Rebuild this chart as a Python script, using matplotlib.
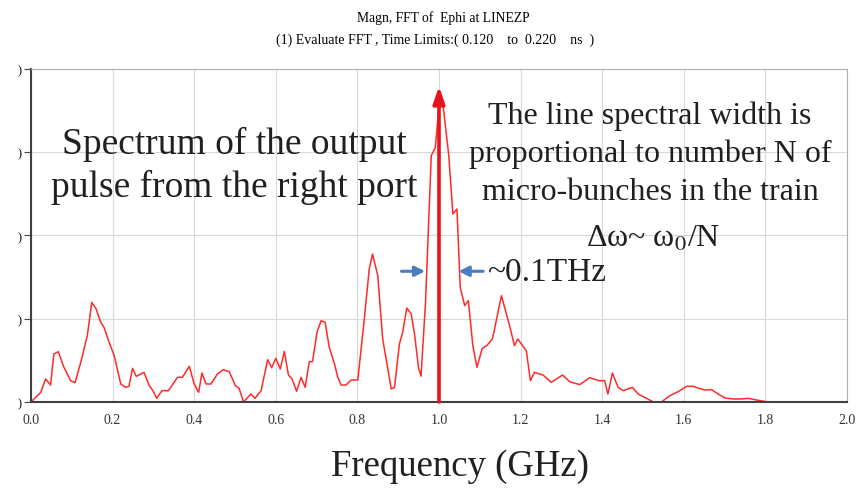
import matplotlib
matplotlib.use("Agg")
import matplotlib.pyplot as plt

plt.rcParams['font.family'] = ['Liberation Serif', 'DejaVu Serif']
plt.rcParams['mathtext.fontset'] = 'stix'

# spectrum (frequency in GHz, magnitude in arbitrary units)
freq = [0.000, 0.024, 0.036, 0.048, 0.056, 0.067, 0.079, 0.097, 0.108, 0.122,
        0.138, 0.149, 0.159, 0.171, 0.179, 0.191, 0.204, 0.220, 0.232, 0.240,
        0.249, 0.258, 0.277, 0.290, 0.299, 0.308, 0.321, 0.337, 0.359, 0.371,
        0.388, 0.400, 0.411, 0.419, 0.429, 0.441, 0.457, 0.471, 0.486, 0.501,
        0.510, 0.521, 0.539, 0.549, 0.564, 0.580, 0.590, 0.600, 0.611, 0.621,
        0.631, 0.640, 0.651, 0.662, 0.672, 0.682, 0.690, 0.701, 0.711, 0.721,
        0.731, 0.744, 0.752, 0.760, 0.772, 0.785, 0.801, 0.817, 0.829, 0.837,
        0.850, 0.862, 0.883, 0.891, 0.903, 0.911, 0.921, 0.932, 0.940, 0.950,
        0.956, 0.967, 0.981, 0.991, 1.003, 1.011, 1.024, 1.034, 1.044, 1.052,
        1.063, 1.072, 1.083, 1.093, 1.106, 1.117, 1.131, 1.153, 1.173, 1.185,
        1.193, 1.214, 1.224, 1.234, 1.255, 1.275, 1.303, 1.320, 1.345, 1.369,
        1.392, 1.406, 1.414, 1.425, 1.439, 1.451, 1.474, 1.488, 1.512, 1.525,
        1.545, 1.566, 1.586, 1.607, 1.623, 1.637, 1.652, 1.668, 1.684, 1.701,
        1.721, 1.740, 1.758, 1.778, 1.807, 1.900, 2.000]
mag = [0.00, 1.16, 2.76, 2.04, 5.76, 6.04, 4.36, 2.56, 2.32, 4.76,
       7.96, 11.97, 11.25, 9.57, 8.97, 7.24, 5.56, 2.16, 1.76, 1.88,
       4.04, 3.08, 3.56, 1.96, 1.36, 0.44, 1.36, 1.36, 2.96, 2.96,
       4.28, 2.16, 1.16, 3.48, 2.16, 2.16, 3.36, 3.88, 3.64, 1.96,
       1.64, 0.00, 0.96, 0.44, 1.36, 5.08, 4.12, 5.24, 3.96, 6.08,
       3.24, 2.76, 1.28, 2.96, 1.76, 4.84, 4.84, 8.37, 9.76, 9.57,
       6.57, 4.56, 2.96, 2.04, 2.04, 2.64, 2.64, 9.97, 15.97, 17.78,
       15.17, 7.57, 1.56, 1.76, 6.97, 8.37, 11.29, 10.57, 8.17, 4.04,
       3.10, 11.97, 29.58, 30.58, 37.20, 35.19, 29.58, 22.58, 23.18, 13.77,
       11.57, 12.17, 6.76, 4.16, 6.45, 6.76, 7.57, 12.77, 9.16, 6.76,
       7.57, 6.16, 2.56, 3.56, 3.24, 2.36, 3.24, 2.44, 2.08, 2.92,
       2.56, 2.56, 0.96, 3.48, 1.76, 1.36, 1.76, 0.96, 0.36, 0.00,
       0.00, 0.76, 1.24, 1.88, 1.88, 1.64, 1.44, 1.48, 0.96, 0.48,
       0.36, 0.36, 0.44, 0.24, 0.00, 0.00, 0.00]

xticks = [0.0, 0.2, 0.4, 0.6, 0.8, 1.0, 1.2, 1.4, 1.6, 1.8, 2.0]
yticks = [0, 10, 20, 30, 40]

fig = plt.figure(figsize=(8.58, 4.89), dpi=100)
ax = fig.add_axes([0.0361, 0.1759, 0.9511, 0.681])

ax.plot(freq, mag, color='#ff2a2a', lw=1.1)

ax.set_xlim(0, 2.0)
ax.set_ylim(0, 40)
ax.set_xticks(xticks)
ax.set_xticklabels([f'{t:.1f}' for t in xticks], fontsize=10, color='#333333')
ax.set_yticks(yticks)
ax.set_yticklabels([')'] * len(yticks), fontsize=9)
ax.tick_params(axis='x', length=0, pad=8)
ax.tick_params(axis='y', length=5, pad=2, color='#444444')
ax.grid(True, color='#d8d8d8', lw=0.8)
ax.set_axisbelow(True)
for side in ['left', 'bottom']:
    ax.spines[side].set_color('#404040')
    ax.spines[side].set_linewidth(1.5)
for side in ['top', 'right']:
    ax.spines[side].set_color('#b0b0b0')
    ax.spines[side].set_linewidth(0.8)

fig.text(0.517, 0.962, 'Magn, FFT of  Ephi at LINEZP', ha='center', va='center', fontsize=9.8)
fig.text(0.507, 0.918, '(1) Evaluate FFT , Time Limits:( 0.120    to  0.220    ns  )',
         ha='center', va='center', fontsize=10)

# central red arrow at the carrier frequency
ax.annotate('', xy=(1.0, 37.9), xytext=(1.0, 0),
            arrowprops=dict(arrowstyle='-|>,head_width=0.35,head_length=1.0',
                            color='#e8141c', lw=2.6, shrinkA=0, shrinkB=0))

# blue width markers
blue = '#4a7cc0'
ax.annotate('', xy=(0.966, 15.7), xytext=(0.908, 15.7),
            arrowprops=dict(arrowstyle='-|>,head_width=0.3,head_length=0.6',
                            color=blue, lw=2.2, shrinkA=0, shrinkB=0))
ax.annotate('', xy=(1.048, 15.7), xytext=(1.108, 15.7),
            arrowprops=dict(arrowstyle='-|>,head_width=0.3,head_length=0.6',
                            color=blue, lw=2.2, shrinkA=0, shrinkB=0))
ax.text(1.117, 15.7, '~0.1THz', fontsize=24, ha='left', va='center', color='#202020')

ax.text(0.498, 28.5, 'Spectrum of the output\npulse from the right port', fontsize=27,
        ha='center', va='center', linespacing=1.3, color='#202020')
ax.text(1.517, 29.9, 'The line spectral width is\nproportional to number N of\nmicro-bunches in the train',
        fontsize=23, ha='center', va='center', linespacing=1.4, color='#202020')
ax.text(1.525, 19.7, r'Δω~ ω$_0$/N', fontsize=23, ha='center', va='center', color='#202020')

fig.text(0.536, 0.045, 'Frequency (GHz)', fontsize=26.5, ha='center', va='center', color='#202020')

fig.savefig('out.png', dpi=100, facecolor='white')
